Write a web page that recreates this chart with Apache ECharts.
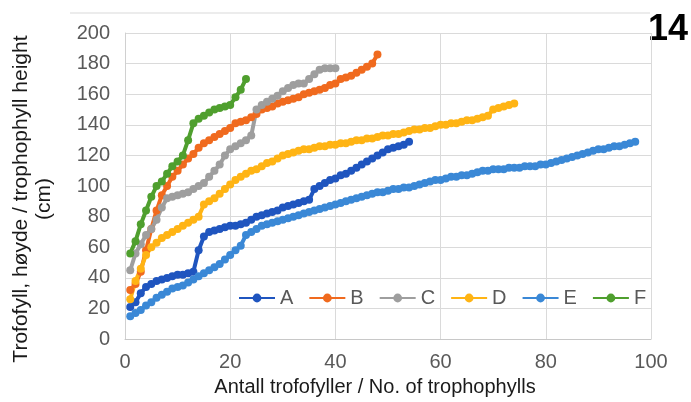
<!DOCTYPE html>
<html>
<head>
<meta charset="utf-8">
<script src="https://cdn.jsdelivr.net/npm/echarts@6/dist/echarts.min.js"></script>
<style>
html,body{margin:0;padding:0;background:#fff;}
#chart{width:691px;height:402px;}
</style>
</head>
<body>
<div id="chart"></div>
<script>
// Series names
const seriesNames = ['A', 'B', 'C', 'D', 'E', 'F'];
// x ticks / y ticks
const xTicks = [0, 20, 40, 60, 80, 100];
const yTicks = [0, 20, 40, 60, 80, 100, 120, 140, 160, 180, 200];

// Heights (cm) for trophophyll no. 1..N of each plant
const valuesA = [21, 24, 30, 34, 36, 38, 39, 40, 41, 42, 42, 43, 44, 58, 67, 70, 71, 72, 73, 74,
  74, 75, 76, 78, 80, 81, 82, 83, 84, 86, 87, 88, 89, 90, 91, 98, 100, 102, 104, 105,
  107, 108, 110, 112, 114, 116, 118, 120, 122, 124, 125, 126, 127, 129];
const valuesB = [32, 36, 44, 58, 72, 84, 94, 100, 106, 110, 114, 118, 121, 125, 128, 130, 132, 134, 136, 138,
  141, 142, 143, 145, 147, 150, 151, 152, 154, 155, 156, 157, 158, 160, 161, 162, 163, 164, 166, 167,
  170, 171, 172, 174, 176, 178, 180, 186];
const valuesC = [45, 56, 62, 68, 72, 78, 86, 92, 93, 94, 95, 96, 98, 100, 102, 106, 110, 114, 120, 124,
  126, 128, 130, 133, 150, 153, 155, 157, 159, 162, 164, 166, 167, 167, 170, 173, 176, 177, 177, 177];
const valuesD = [26, 38, 46, 55, 60, 63, 66, 68, 70, 72, 74, 76, 78, 80, 88, 90, 92, 95, 98, 101,
  104, 106, 108, 110, 111, 113, 115, 116, 118, 120, 121, 122, 123, 124, 124, 125, 126, 126, 127, 127,
  128, 128, 129, 130, 130, 131, 131, 132, 133, 133, 134, 134, 135, 136, 137, 137, 138, 138, 139, 140,
  140, 141, 141, 142, 143, 143, 144, 145, 146, 150, 151, 152, 153, 154];
const valuesE = [15, 17, 19, 22, 24, 27, 29, 31, 33, 34, 35, 37, 39, 41, 43, 45, 47, 49, 52, 55,
  58, 61, 68, 70, 72, 74, 75, 76, 77, 78, 79, 80, 81, 82, 83, 84, 85, 86, 87, 88,
  89, 90, 91, 92, 93, 94, 95, 96, 96, 97, 98, 98, 99, 99, 100, 101, 102, 103, 104, 104,
  105, 106, 106, 107, 107, 108, 109, 110, 110, 111, 111, 111, 112, 112, 112, 113, 113, 113, 114, 114,
  115, 116, 117, 118, 119, 120, 121, 122, 123, 124, 124, 125, 126, 126, 127, 128, 129];
const valuesF = [56, 64, 75, 84, 93, 100, 103, 108, 113, 116, 120, 130, 141, 144, 146, 148, 150, 151, 152, 153,
  158, 163, 170];

const allValues = [valuesA, valuesB, valuesC, valuesD, valuesE, valuesF];
const colors = ['#1f55bf', '#f06a1e', '#9e9e9e', '#ffb414', '#3a88d6', '#4f9f2e'];

const font = 'Liberation Sans, Arial, sans-serif';

const chart = echarts.init(document.getElementById('chart'));
chart.setOption({
  animation: false,
  backgroundColor: '#ffffff',
  color: colors,
  grid: { left: 125, right: 40, top: 33, bottom: 57, containLabel: false },
  legend: {
    data: seriesNames,
    left: 233,
    top: 283,
    itemWidth: 36,
    itemHeight: 11,
    itemGap: 15,
    textStyle: { fontFamily: font, fontSize: 20, color: '#595959', lineHeight: 20 }
  },
  xAxis: {
    type: 'value',
    min: xTicks[0],
    max: xTicks[xTicks.length - 1],
    interval: 20,
    name: 'Antall trofofyller / No. of trophophylls',
    nameLocation: 'middle',
    nameGap: 31,
    nameTextStyle: { fontFamily: font, fontSize: 20, color: '#1a1a1a', padding: [0, 26, 0, 0] },
    axisLine: { show: true, lineStyle: { color: '#c8c8c8', width: 1 } },
    axisTick: { show: false },
    axisLabel: { fontFamily: font, fontSize: 20, color: '#595959', margin: 13 },
    splitLine: { show: true, lineStyle: { color: '#dadada', width: 1 } }
  },
  yAxis: {
    type: 'value',
    min: yTicks[0],
    max: yTicks[yTicks.length - 1],
    interval: 20,
    name: 'Trofofyll, høyde / trophophyll height\n(cm)',
    nameLocation: 'middle',
    nameGap: 69,
    nameTextStyle: { fontFamily: font, fontSize: 21, color: '#1a1a1a', lineHeight: 23, align: 'center', padding: [0, 26, 0, 0] },
    axisLine: { show: true, lineStyle: { color: '#d0d0d0', width: 1 } },
    axisTick: { show: false },
    axisLabel: { fontFamily: font, fontSize: 20, color: '#595959', margin: 15 },
    splitLine: { show: true, lineStyle: { color: '#dadada', width: 1 } }
  },
  graphic: [
    { type: 'line', shape: { x1: 70, y1: 13, x2: 650, y2: 13 }, style: { stroke: '#d9d9d9', lineWidth: 1 } },
    { type: 'text', right: 3, top: 12, style: { text: '14', font: 'bold 36px ' + font, fill: '#000000' } }
  ],
  series: seriesNames.map((name, i) => ({
    name: name,
    type: 'line',
    data: allValues[i].map((v, j) => [j + 1, v]),
    symbol: 'circle',
    symbolSize: 8,
    showAllSymbol: true,
    lineStyle: { width: 4, color: colors[i] },
    itemStyle: { color: colors[i] },
    z: 2
  }))
});
</script>
</body>
</html>
